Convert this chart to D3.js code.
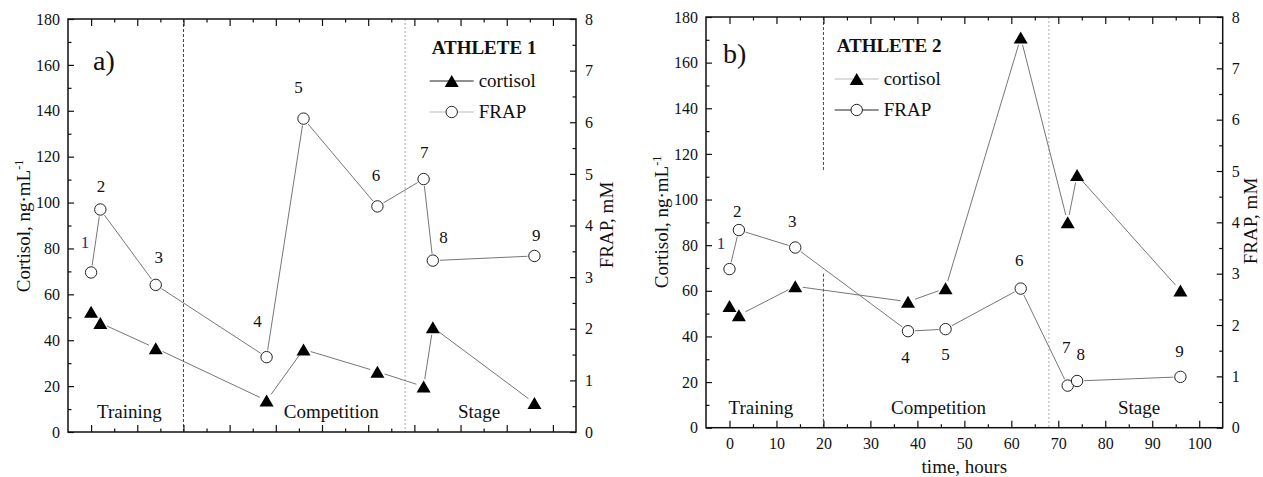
<!DOCTYPE html>
<html>
<head>
<meta charset="utf-8">
<script src="https://cdn.jsdelivr.net/npm/d3@7"></script>
<style>
  body { margin: 0; background: #fff; }
  svg { display: block; }
  text { font-family: "Liberation Serif", "Times New Roman", serif; fill: #111; }
</style>
</head>
<body>
<svg id="chart" width="1263" height="477"></svg>
<script>
// Sampling times (hours) shared by both athletes, and the sample numbers
const hours = [0, 2, 14, 38, 46, 62, 72, 74, 96];
const sampleNumbers = ["1", "2", "3", "4", "5", "6", "7", "8", "9"];

// Athlete 1: cortisol (ng/mL) and FRAP (mM)
const cortisolA = [52.4, 47.5, 36.5, 13.7, 36, 26.3, 19.8, 45.6, 12.6];
const frapA = [3.09, 4.31, 2.85, 1.45, 6.07, 4.37, 4.90, 3.32, 3.41];

// Athlete 2: cortisol (ng/mL) and FRAP (mM)
const cortisolB = [53.3, 49.3, 62, 55.2, 61.1, 171, 90, 110.7, 60.1];
const frapB = [3.09, 3.85, 3.51, 1.88, 1.92, 2.71, 0.82, 0.91, 0.99];

// Study periods and the times that separate them
const periodNames = ["Training", "Competition", "Stage"];
const periodBreaks = [20, 68];

// Axis ticks
const cortisolTicks = [0, 20, 40, 60, 80, 100, 120, 140, 160, 180];
const cortisolMinor = [10, 30, 50, 70, 90, 110, 130, 150, 170];
const frapTicks = [0, 1, 2, 3, 4, 5, 6, 7, 8];
const frapMinor = [0.5, 1.5, 2.5, 3.5, 4.5, 5.5, 6.5, 7.5];
const timeTicks = [0, 10, 20, 30, 40, 50, 60, 70, 80, 90, 100];
const timeMinor = [5, 15, 25, 35, 45, 55, 65, 75, 85, 95];

const athleteNames = ["ATHLETE 1", "ATHLETE 2"];
const panelTags = ["a)", "b)"];
const seriesNames = ["cortisol", "FRAP"];

const svg = d3.select("#chart");

// Triangle centred on its bounding box
function trianglePath(w, h) {
  return `M0,${-h / 2}L${w / 2},${h / 2}L${-w / 2},${h / 2}Z`;
}

const panels = [
  {
    left: 68, right: 576, top: 19, bottom: 432,
    cortisol: cortisolA, frap: frapA,
    name: athleteNames[0], tag: panelTags[0],
    tagPos: [25, 51],
    showTimeLabels: false,
    legendPos: [363.7, 35],
    legendLineColors: ["#222", "#bbb"],
    periodCenters: [8.3, 52, 84],
    breakSegments: [[[180, 0]], [[180, 0]]],
    labelOffsets: [[-6, -24], [0.7, -17], [3, -22], [-9, -30], [-5, -26], [-1.5, -25], [0.7, -21], [10.7, -18], [1.7, -15]],
    leftTitleX: 30, rightTitleX: 613, leftTitleY: 226, rightTitleY: 225
  },
  {
    left: 706, right: 1222.7, top: 17, bottom: 427.7,
    cortisol: cortisolB, frap: frapB,
    name: athleteNames[1], tag: panelTags[1],
    tagPos: [17, 46],
    showTimeLabels: true,
    legendPos: [130.7, 35],
    legendLineColors: ["#bbb", "#222"],
    periodCenters: [6.7, 44.5, 87.2],
    breakSegments: [[[180, 113], [67.5, 0]], [[180, 0]]],
    labelOffsets: [[-8.5, -20], [-1.7, -13], [-3, -21], [-2.6, 32], [0, 31], [-1.4, -23], [-1.4, -33], [3.7, -21], [-1, -20]],
    leftTitleX: 668, rightTitleX: 1257, leftTitleY: 222, rightTitleY: 221
  }
];

function drawPanel(p) {
  const g = svg.append("g");
  const x = d3.scaleLinear().domain([-5, 105]).range([p.left, p.right]);
  const y = d3.scaleLinear().domain([0, 180]).range([p.bottom, p.top]);
  const yr = d3.scaleLinear().domain([0, 8]).range([p.bottom, p.top]);

  // Period separators
  const breakStyles = [
    { stroke: "#444", dash: "3,2" },
    { stroke: "#aaa", dash: "2,2" }
  ];
  periodBreaks.forEach((t, i) => {
    p.breakSegments[i].forEach(seg => {
      g.append("line")
        .attr("x1", x(t)).attr("x2", x(t))
        .attr("y1", y(seg[0])).attr("y2", y(seg[1]))
        .attr("stroke", breakStyles[i].stroke)
        .attr("stroke-width", 1)
        .attr("stroke-dasharray", breakStyles[i].dash);
    });
  });

  // Axes: ticks point into the plot
  const fontSize = "16px";
  function styleAxis(sel) {
    sel.select(".domain").remove();
    sel.selectAll(".tick line").attr("stroke", "#111").attr("stroke-width", 1.2);
    sel.selectAll(".tick text").style("font-size", fontSize)
      .style("font-family", '"Liberation Serif","Times New Roman",serif').attr("fill", "#111");
  }
  g.append("g").attr("transform", `translate(${p.left},0)`)
    .call(d3.axisLeft(y).tickValues(cortisolTicks).tickSize(-6).tickPadding(8)).call(styleAxis);
  g.append("g").attr("transform", `translate(${p.left},0)`)
    .call(d3.axisLeft(y).tickValues(cortisolMinor).tickSize(-3.5).tickFormat("")).call(styleAxis);
  g.append("g").attr("transform", `translate(${p.right},0)`)
    .call(d3.axisRight(yr).tickValues(frapTicks).tickSize(-6).tickPadding(9)).call(styleAxis);
  g.append("g").attr("transform", `translate(${p.right},0)`)
    .call(d3.axisRight(yr).tickValues(frapMinor).tickSize(-3.5).tickFormat("")).call(styleAxis);

  const bottomAxis = d3.axisBottom(x).tickValues(timeTicks).tickSize(-7).tickPadding(10);
  if (!p.showTimeLabels) bottomAxis.tickFormat("");
  g.append("g").attr("transform", `translate(0,${p.bottom})`).call(bottomAxis).call(styleAxis);
  g.append("g").attr("transform", `translate(0,${p.bottom})`)
    .call(d3.axisBottom(x).tickValues(timeMinor).tickSize(-3.5).tickFormat("")).call(styleAxis);
  g.append("g").attr("transform", `translate(0,${p.top})`)
    .call(d3.axisTop(x).tickValues(timeTicks).tickSize(-7).tickFormat("")).call(styleAxis);
  g.append("g").attr("transform", `translate(0,${p.top})`)
    .call(d3.axisTop(x).tickValues(timeMinor).tickSize(-3.5).tickFormat("")).call(styleAxis);

  // Frame
  g.append("rect")
    .attr("x", p.left).attr("y", p.top)
    .attr("width", p.right - p.left).attr("height", p.bottom - p.top)
    .attr("fill", "none").attr("stroke", "#111").attr("stroke-width", 1.5);

  // Connecting lines that stop short of the markers
  function connect(pts, gap) {
    for (let i = 0; i < pts.length - 1; i++) {
      const [x1, y1] = pts[i], [x2, y2] = pts[i + 1];
      const d = Math.hypot(x2 - x1, y2 - y1);
      if (d <= 2 * gap) continue;
      const ux = (x2 - x1) / d, uy = (y2 - y1) / d;
      g.append("line")
        .attr("x1", x1 + ux * gap).attr("y1", y1 + uy * gap)
        .attr("x2", x2 - ux * gap).attr("y2", y2 - uy * gap)
        .attr("stroke", "#666").attr("stroke-width", 0.9);
    }
  }
  const triPts = hours.map((h, i) => [x(h), y(p.cortisol[i])]);
  const cirPts = hours.map((h, i) => [x(h), yr(p.frap[i])]);
  connect(triPts, 7.5);
  connect(cirPts, 7);

  g.selectAll(".tri").data(triPts).enter().append("path")
    .attr("d", trianglePath(14, 12))
    .attr("transform", d => `translate(${d[0]},${d[1]})`)
    .attr("fill", "#000");
  g.selectAll(".cir").data(cirPts).enter().append("circle")
    .attr("cx", d => d[0]).attr("cy", d => d[1]).attr("r", 5.7)
    .attr("fill", "#fff").attr("stroke", "#222").attr("stroke-width", 1);

  // Sample numbers
  g.selectAll(".num").data(cirPts).enter().append("text")
    .attr("x", (d, i) => d[0] + p.labelOffsets[i][0])
    .attr("y", (d, i) => d[1] + p.labelOffsets[i][1])
    .attr("text-anchor", "middle")
    .style("font-size", "17px")
    .style("fill", (d, i) => i === 0 ? "#26336e" : "#111")
    .text((d, i) => sampleNumbers[i]);

  // Period names
  periodNames.forEach((name, i) => {
    g.append("text")
      .attr("x", x(p.periodCenters[i])).attr("y", p.bottom - 14)
      .attr("text-anchor", "middle").style("font-size", "19px")
      .text(name);
  });

  // Panel tag
  g.append("text")
    .attr("x", p.left + p.tagPos[0]).attr("y", p.top + p.tagPos[1])
    .style("font-size", "28px").text(p.tag);

  // Legend
  const lx = p.left + p.legendPos[0], ly = p.top + p.legendPos[1];
  g.append("text").attr("x", lx).attr("y", ly)
    .style("font-size", "19px").style("font-weight", "bold").text(p.name);
  seriesNames.forEach((s, i) => {
    const ry = ly + 27 + i * 31;
    const x0 = lx - 2, x1 = lx + 42;
    g.append("line").attr("x1", x0).attr("x2", x1).attr("y1", ry).attr("y2", ry)
      .attr("stroke", p.legendLineColors[i]).attr("stroke-width", 1);
    const cx = (x0 + x1) / 2;
    if (i === 0) {
      g.append("path").attr("d", trianglePath(14, 12))
        .attr("transform", `translate(${cx},${ry})`).attr("fill", "#000");
    } else {
      g.append("circle").attr("cx", cx).attr("cy", ry).attr("r", 5.7)
        .attr("fill", "#fff").attr("stroke", "#222").attr("stroke-width", 1);
    }
    g.append("text").attr("x", x1 + 5).attr("y", ry + 6)
      .style("font-size", "19px").text(s);
  });

  // Axis titles
  const lt = g.append("text")
    .attr("transform", `translate(${p.leftTitleX},${p.leftTitleY}) rotate(-90)`)
    .attr("text-anchor", "middle").style("font-size", "19px");
  lt.append("tspan").text("Cortisol, ng\u00B7mL");
  lt.append("tspan").attr("dy", -7).style("font-size", "12px").text("-1");

  g.append("text")
    .attr("transform", `translate(${p.rightTitleX},${p.rightTitleY}) rotate(-90)`)
    .attr("text-anchor", "middle").style("font-size", "19px")
    .text("FRAP, mM");

  if (p.showTimeLabels) {
    g.append("text")
      .attr("x", (p.left + p.right) / 2).attr("y", 473)
      .attr("text-anchor", "middle").style("font-size", "19px")
      .text("time, hours");
  }
}

panels.forEach(drawPanel);
</script>
</body>
</html>
